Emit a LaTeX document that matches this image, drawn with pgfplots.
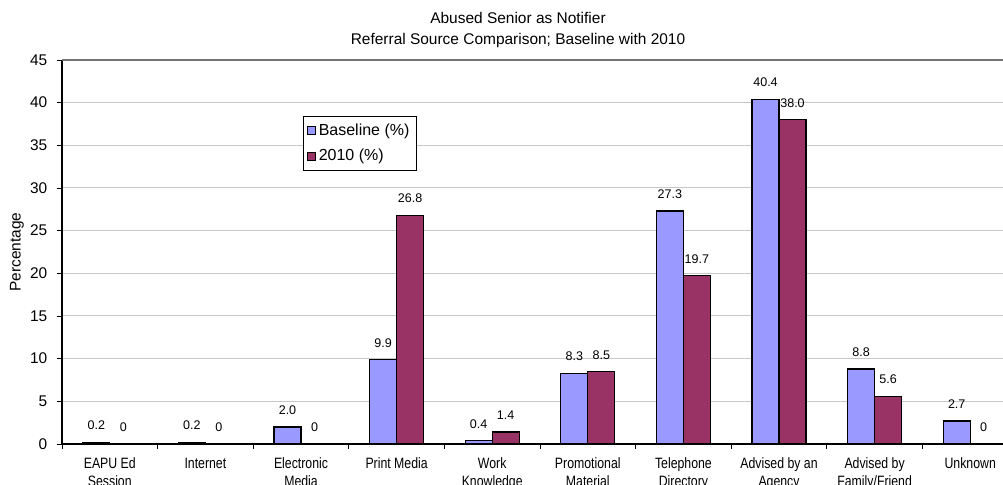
\documentclass[border=0pt]{standalone}
\usepackage{pgfplots}
\pgfplotsset{compat=1.18}
\usepackage{fontspec}
\setmainfont{Liberation Sans}
\newfontfamily\narrowfont[FakeStretch=0.82]{Liberation Sans}
\definecolor{basecol}{HTML}{9999FF}
\definecolor{newcol}{HTML}{993366}
\begin{document}
\begin{tikzpicture}
\begin{axis}[
  width=705.75pt, height=288pt, scale only axis,
  ybar=0pt, bar width=20.25pt,
  xmin=-0.5, xmax=9.343,
  ymin=0, ymax=45, ytick={0,5,...,45},
  xtick={0,...,9},
  xticklabels={EAPU Ed\\Session, Internet, Electronic\\Media, Print Media,
    Work\\Knowledge, Promotional\\Material, Telephone\\Directory,
    Advised by an\\Agency, Advised by\\Family/Friend, Unknown},
  minor xtick={-0.5,0.5,...,9.5},
  major x tick style={draw=none},
  tick align=outside,
  major tick length=4pt, minor tick length=3.5pt,
  tick style={black, line width=0.6pt},
  axis x line*=bottom, axis y line*=left,
  axis line style={-, black, line width=1.1pt},
  ymajorgrids, grid style={draw=black!22, line width=0.75pt},
  /pgf/number format/assume math mode=true,
  xticklabel style={align=center, font=\narrowfont\fontsize{11.25}{13.3}\selectfont, yshift=-3pt},
  yticklabel style={font=\fontsize{11.6}{13}\selectfont, xshift=-3.5pt},
  point meta=explicit symbolic,
  nodes near coords,
  every node near coord/.append style={anchor=center, yshift=12.5pt, font=\fontsize{9.4}{11}\selectfont, black},
  legend style={at={(rel axis cs:0.256,0.854)}, anchor=north west,
    draw=black, line width=0.6pt, font=\fontsize{12}{13}\selectfont,
    row sep=5pt, inner xsep=3pt, inner ysep=3.5pt},
  legend cell align=left,
  legend image code/.code={\draw[#1, line width=0.6pt] (0pt,-3pt) rectangle (6pt,3pt);},
]
\addplot[fill=basecol, draw=black, line width=0.9pt] coordinates {
  (0,0.2) [0.2] (1,0.2) [0.2] (2,2.0) [2.0] (3,9.9) [9.9] (4,0.4) [0.4]
  (5,8.3) [8.3] (6,27.3) [27.3] (7,40.4) [40.4] (8,8.8) [8.8] (9,2.7) [2.7]
};
\addplot[fill=newcol, draw=black, line width=0.9pt] coordinates {
  (0,0) [0] (1,0) [0] (2,0) [0] (3,26.8) [26.8] (4,1.4) [1.4]
  (5,8.5) [8.5] (6,19.7) [19.7] (7,38.0) [38.0] (8,5.6) [5.6] (9,0) [0]
};
\legend{Baseline (\%), 2010 (\%)}
\draw[black!55, line width=0.9pt] (rel axis cs:0,1) -- (rel axis cs:1,1);
\end{axis}
\node[font=\fontsize{11.6}{13}\selectfont] at (342pt,319.5pt) {Abused Senior as Notifier};
\node[font=\fontsize{11.6}{13}\selectfont] at (342pt,302.5pt) {Referral Source Comparison; Baseline with 2010};
\node[rotate=90, font=\fontsize{11.6}{13}\selectfont] at (-33.75pt,144pt) {Percentage};
\pgfresetboundingbox
\useasboundingbox (-46.5pt,-30.75pt) rectangle (705.75pt,333pt);
\end{tikzpicture}
\end{document}
